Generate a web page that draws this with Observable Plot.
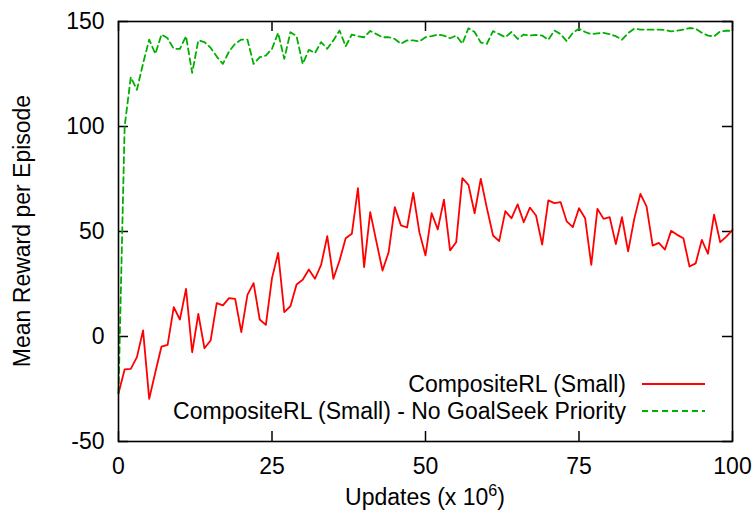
<!DOCTYPE html>
<html>
<head>
<meta charset="utf-8">
<script src="https://cdn.jsdelivr.net/npm/d3@7"></script>
<script src="https://cdn.jsdelivr.net/npm/@observablehq/plot@0.6"></script>
<style>
  html, body { margin: 0; padding: 0; background: #ffffff; }
</style>
</head>
<body>
<div id="chart"></div>
<script>
// Updates (x 10^6)
const updates = [0,1,2,3,4,5,6,7,8,9,10,11,12,13,14,15,16,17,18,19,20,21,22,23,24,25,26,27,28,29,30,31,32,33,34,35,36,37,38,39,40,41,42,43,44,45,46,47,48,49,50,51,52,53,54,55,56,57,58,59,60,61,62,63,64,65,66,67,68,69,70,71,72,73,74,75,76,77,78,79,80,81,82,83,84,85,86,87,88,89,90,91,92,93,94,95,96,97,98,99,100];

// CompositeRL (Small)
const rewardComposite = [-27,-15.7,-15.4,-9.8,2.9,-29.7,-17,-4.8,-4,14,8.1,22.7,-7.5,10.8,-5.6,-1.9,15.9,14.8,18.3,17.9,2.1,19.8,25.4,8.1,5.5,27.8,39.8,11.6,14.4,24.8,27,31.9,27.5,34.1,47.8,27.5,36.2,46.8,48.9,70.6,33,59.2,45.2,31.4,40.2,61.6,52.9,51.9,68.4,49.7,38.6,58.7,51,65.2,41,44.9,75.4,72.2,58.7,75.1,61.1,48.1,45.4,59.7,56.3,62.9,54.4,61.4,57.6,43.8,64.8,63.5,64,54.8,52.1,61.1,56.3,34.1,60.8,56,56.8,44,56.8,40.5,56,67.9,62,43.3,44.6,41.4,50.3,48.4,46.8,33.3,34.8,46,39.4,58,44.9,47.6,50.8];

// CompositeRL (Small) - No GoalSeek Priority
const rewardNoGoalSeek = [-27,100,123.5,117.5,130,141.4,134.6,143.8,142,137,137,143,125.5,141,140.2,137.5,133.3,129.8,135.7,139.4,141.4,141.4,129.8,133,133.8,137,144.6,132.2,144.9,143,129.8,136.5,135,140.2,137,141,145.7,138.2,143.8,143,142.5,145.5,144,142.5,142.5,141.7,139.4,141,141,140.5,142.5,143,143.8,143.3,142,143.3,139.4,146.8,145,140,139.4,145.4,144,142.5,145,141.7,143.8,143.3,143.6,143.3,141.3,145.7,144,140.6,144.6,146.6,145,144,144.3,144.6,144,143,141.3,144.5,146.6,146.1,146.1,146.1,146.1,146,145.3,145.6,146.1,146.9,146.6,144.6,143.3,142.9,145.3,145.6,145.6];

const seriesNames = ["CompositeRL (Small)", "CompositeRL (Small) - No GoalSeek Priority"];
const seriesColors = ["#ff0000", "#00b000"];
const xTicks = [0, 25, 50, 75, 100];
const yTicks = [-50, 0, 50, 100, 150];
const xLabelMain = "Updates (x 10";
const xLabelSup = "6";
const yLabel = "Mean Reward per Episode";

const rowsComposite = updates.map((u, i) => ({u, v: rewardComposite[i]}));
const rowsNoGoal = updates.map((u, i) => ({u, v: rewardNoGoalSeek[i]}));

const W = 754, H = 514;
const mL = 118, mR = 22, mT = 21, mB = 73;
const plotW = W - mL - mR, plotH = H - mT - mB;
const tickLen = 10;
const FONT = "'Liberation Sans', Arial, Helvetica, sans-serif";
const FS = 23;

function annotations(index, scales, values, dim) {
  const g = d3.create("svg:g")
    .attr("font-family", FONT)
    .attr("font-size", FS)
    .attr("fill", "black");
  const xr = dim.width - dim.marginRight;
  const yb = dim.height - dim.marginBottom;
  const xc = (dim.marginLeft + xr) / 2;
  const yc = (dim.marginTop + yb) / 2;

  // x-axis title with superscript
  const xt = g.append("text")
    .attr("x", xc).attr("y", yb + 64)
    .attr("text-anchor", "middle");
  xt.append("tspan").text(xLabelMain);
  xt.append("tspan").attr("dy", -9).attr("font-size", FS * 0.7).text(xLabelSup);
  xt.append("tspan").attr("dy", 9).text(")");

  // y-axis title
  g.append("text")
    .attr("transform", `translate(${dim.marginLeft - 96},${yc}) rotate(-90)`)
    .attr("text-anchor", "middle")
    .attr("dominant-baseline", "central")
    .text(yLabel);

  // legend
  const rowsY = [yb - 57, yb - 30];
  seriesNames.forEach((name, i) => {
    g.append("text")
      .attr("x", xr - 106).attr("y", rowsY[i])
      .attr("text-anchor", "end")
      .attr("dominant-baseline", "central")
      .text(name);
    const ln = g.append("line")
      .attr("x1", xr - 90).attr("x2", xr - 27)
      .attr("y1", rowsY[i]).attr("y2", rowsY[i])
      .attr("stroke", seriesColors[i])
      .attr("stroke-width", 1.8);
    if (i === 1) ln.attr("stroke-dasharray", "6,4");
  });
  return g.node();
}

const chart = Plot.plot({
  width: W,
  height: H,
  marginLeft: mL,
  marginRight: mR,
  marginTop: mT,
  marginBottom: mB,
  style: {fontFamily: FONT, fontSize: FS + "px", background: "white", color: "black"},
  x: {domain: [0, 100]},
  y: {domain: [-50, 150]},
  marks: [
    Plot.axisX({ticks: xTicks, tickSize: 0, tickPadding: 16, label: null, tickFormat: d => String(d)}),
    Plot.axisY({ticks: yTicks, tickSize: 0, tickPadding: 14, label: null, tickFormat: d => String(d)}),
    Plot.tickX(xTicks, {x: d => d, insetTop: plotH - tickLen, stroke: "black", strokeWidth: 1.5}),
    Plot.tickX(xTicks, {x: d => d, insetBottom: plotH - tickLen, stroke: "black", strokeWidth: 1.5}),
    Plot.tickY(yTicks, {y: d => d, insetRight: plotW - tickLen, stroke: "black", strokeWidth: 1.5}),
    Plot.tickY(yTicks, {y: d => d, insetLeft: plotW - tickLen, stroke: "black", strokeWidth: 1.5}),
    Plot.line(rowsComposite, {x: "u", y: "v", stroke: seriesColors[0], strokeWidth: 1.8}),
    Plot.line(rowsNoGoal, {x: "u", y: "v", stroke: seriesColors[1], strokeWidth: 1.8, strokeDasharray: "6,4"}),
    annotations,
    Plot.frame({stroke: "black", strokeWidth: 1.6})
  ]
});
document.getElementById("chart").appendChild(chart);
</script>
</body>
</html>
